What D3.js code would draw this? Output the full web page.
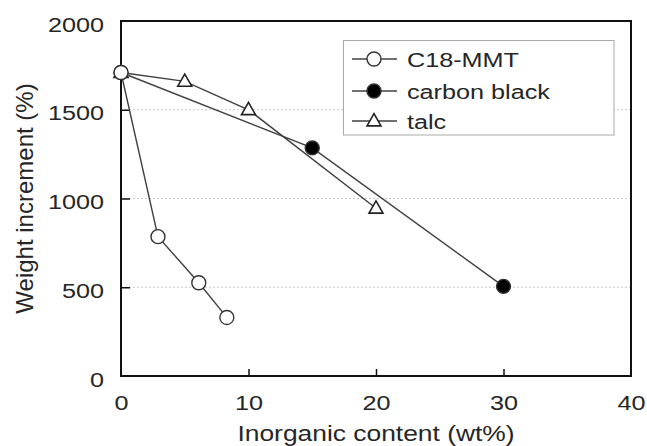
<!DOCTYPE html>
<html>
<head>
<meta charset="utf-8">
<script src="https://cdn.jsdelivr.net/npm/d3@7/dist/d3.min.js"></script>
<style>
  html, body { margin: 0; padding: 0; background: #fff; }
  svg { display: block; font-family: "Liberation Sans", Arial, sans-serif; }
</style>
</head>
<body>
<svg id="chart" width="647" height="446"></svg>
<script>
const seriesNames = ["C18-MMT", "carbon black", "talc"];
const c18X = [0, 2.9, 6.1, 8.3];
const c18Y = [1710, 785, 525, 330];
const cbX = [0, 15, 30];
const cbY = [1710, 1285, 505];
const talcX = [0, 5, 10, 20];
const talcY = [1710, 1660, 1500, 945];
const xTicks = [0, 10, 20, 30, 40];
const yTicks = [0, 500, 1000, 1500, 2000];
const gridValues = [500, 1000, 1500];
const xTitle = "Inorganic content (wt%)";
const yTitle = "Weight increment (%)";

const svg = d3.select("#chart");
const m = { left: 121, right: 631, top: 21, bottom: 376 };
const x = d3.scaleLinear().domain([0, 40]).range([m.left, m.right]);
const y = d3.scaleLinear().domain([0, 2000]).range([m.bottom, m.top]);

const textColor = "#262626";
const lineColor = "#404040";
const SX = 1.2; // horizontal stretch of the lettering

// gridlines
svg.append("g").selectAll("line").data(gridValues).join("line")
  .attr("x1", m.left).attr("x2", m.right)
  .attr("y1", d => y(d)).attr("y2", d => y(d))
  .attr("stroke", "#c8c8c8").attr("stroke-width", 1.2)
  .attr("stroke-dasharray", "2,2");

// axes
const xAxis = d3.axisBottom(x).tickValues(xTicks).tickSize(-7).tickPadding(19).tickFormat(d3.format("d"));
const yAxis = d3.axisLeft(y).tickValues(yTicks).tickSize(-9).tickPadding(17).tickFormat(d3.format("d"));

const gx = svg.append("g").attr("transform", `translate(0,${m.bottom})`).call(xAxis);
const gy = svg.append("g").attr("transform", `translate(${m.left},0)`).call(yAxis);
[gx, gy].forEach(g => {
  g.select(".domain").remove();
  g.selectAll(".tick line").attr("stroke", "#111").attr("stroke-width", 1.5);
  g.selectAll(".tick text").attr("fill", textColor).style("font-size", "21px");
});
gy.selectAll(".tick text").attr("dy", "0.48em");
// stretch tick labels horizontally around their anchor
[gx, gy].forEach(g => {
  g.selectAll(".tick text").each(function () {
    const t = d3.select(this);
    const tx = +t.attr("x") || 0;
    const ty = +t.attr("y") || 0;
    t.attr("x", 0).attr("y", 0)
     .attr("transform", `translate(${tx},${ty}) scale(${SX},1)`);
  });
});
// hide edge ticks at corners
gx.selectAll(".tick line").filter(d => d === 0 || d === 40).remove();
gy.selectAll(".tick line").filter(d => d === 0 || d === 2000).remove();

// frame
svg.append("rect")
  .attr("x", m.left).attr("y", m.top)
  .attr("width", m.right - m.left).attr("height", m.bottom - m.top)
  .attr("fill", "none").attr("stroke", "#111").attr("stroke-width", 2);

// titles
svg.append("text")
  .attr("transform", `translate(${(m.left + m.right) / 2},441) scale(${SX},1)`)
  .attr("text-anchor", "middle").attr("fill", textColor).style("font-size", "22px")
  .text(xTitle);
svg.append("text").attr("transform", `translate(33,${(m.top + m.bottom) / 2}) rotate(-90)`)
  .attr("text-anchor", "middle").attr("fill", textColor).style("font-size", "24px")
  .text(yTitle);

const line = d3.line().x(d => x(d[0])).y(d => y(d[1]));
const zip = (a, b) => a.map((v, i) => [v, b[i]]);
const series = [
  { name: seriesNames[0], pts: zip(c18X, c18Y), marker: "open" },
  { name: seriesNames[1], pts: zip(cbX, cbY), marker: "filled" },
  { name: seriesNames[2], pts: zip(talcX, talcY), marker: "tri" }
];

const triPath = (cx, cy, s) => {
  const h = s * 0.87;
  return `M${cx},${cy - h * 0.6} L${cx + s / 2},${cy + h * 0.4} L${cx - s / 2},${cy + h * 0.4} Z`;
};

function drawMarker(g, type, cx, cy) {
  if (type === "tri") {
    g.append("path").attr("d", triPath(cx, cy, 14))
      .attr("fill", "#fff").attr("stroke", "#222").attr("stroke-width", 1.6);
  } else {
    g.append("circle").attr("cx", cx).attr("cy", cy).attr("r", 7)
      .attr("fill", type === "filled" ? "#000" : "#fff")
      .attr("stroke", "#333").attr("stroke-width", 1.4);
  }
}

const plot = svg.append("g");
series.forEach(s => {
  plot.append("path").datum(s.pts).attr("d", line)
    .attr("fill", "none").attr("stroke", lineColor).attr("stroke-width", 1.4);
});
// markers: talc first, then carbon black, then C18 on top
[series[2], series[1], series[0]].forEach(s => {
  s.pts.forEach(p => drawMarker(plot, s.marker, x(p[0]), y(p[1])));
});

// legend
const lg = svg.append("g");
lg.append("rect").attr("x", 343.5).attr("y", 40.5).attr("width", 270.5).attr("height", 94.5)
  .attr("fill", "#fff").attr("stroke", "#aaa").attr("stroke-width", 1);
const rowY = [59, 91, 121];
series.forEach((s, i) => {
  const yy = rowY[i];
  lg.append("line").attr("x1", 352).attr("x2", 397).attr("y1", yy).attr("y2", yy)
    .attr("stroke", lineColor).attr("stroke-width", 1.4);
  drawMarker(lg, s.marker, 374, yy);
  lg.append("text").attr("transform", `translate(407,${yy + 7.5}) scale(${SX},1)`)
    .attr("fill", textColor).style("font-size", "21px").text(s.name);
});
</script>
</body>
</html>
